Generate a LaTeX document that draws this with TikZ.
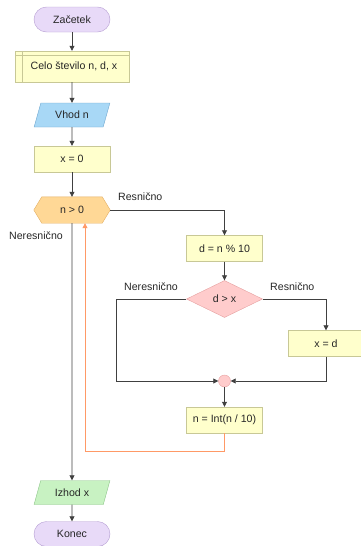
\documentclass[tikz,border=0pt]{standalone}
\usepackage{fontspec}
\setmainfont{Liberation Sans}
\usetikzlibrary{shapes.geometric,arrows.meta}

\definecolor{pillfill}{HTML}{E8DAF8}
\definecolor{pillline}{HTML}{B49CD2}
\definecolor{boxfill}{HTML}{FFFFCC}
\definecolor{boxline}{HTML}{C8C896}
\definecolor{infill}{HTML}{A8D8F6}
\definecolor{inline}{HTML}{6EA6CE}
\definecolor{outfill}{HTML}{C8F2C2}
\definecolor{outline}{HTML}{8CC488}
\definecolor{hexfill}{HTML}{FFD896}
\definecolor{hexline}{HTML}{E2AE62}
\definecolor{decfill}{HTML}{FFCCCC}
\definecolor{decline}{HTML}{E6A0A0}
\definecolor{flowline}{HTML}{404040}
\definecolor{loopline}{HTML}{FF9966}

\tikzset{
  pill/.style={draw=pillline, fill=pillfill, rounded corners=12.5pt, minimum width=76pt, minimum height=25pt, inner sep=0pt},
  box/.style={draw=boxline, fill=boxfill, minimum width=76pt, minimum height=26pt, inner sep=0pt},
  io/.style={trapezium, trapezium left angle=65, trapezium right angle=115, trapezium stretches=true, minimum width=76pt, minimum height=24pt, inner sep=0pt},
  flow/.style={draw=flowline, thick, -{Triangle[length=5pt,width=5pt]}},
  lbl/.style={text=black!85, inner sep=0pt}
}

\begin{document}
\begin{tikzpicture}[x=1pt, y=-1pt, font=\fontsize{10.6}{12}\selectfont, text=black!85]
  \useasboundingbox (0,0) rectangle (361,546);

  \node[pill] (zacetek) at (72,19.5) {Začetek};
  \node[box, minimum width=114pt, minimum height=31pt] (celo) at (72,66.5) {\hspace*{4pt}Celo število n, d, x};
  \draw[boxline] ([xshift=7pt]celo.north west) -- ([xshift=7pt]celo.south west);
  \draw[boxline] ([yshift=-4pt]celo.north west) -- ([yshift=-4pt]celo.north east);
  \node[io, draw=inline, fill=infill] (vhod) at (72,115) {Vhod n};
  \node[box] (xnic) at (72,159) {x = 0};

  % pogoj zanke: sestkotnik
  \node[minimum width=76pt, minimum height=26pt, inner sep=0pt] (pogoj) at (72,210) {};
  \draw[draw=hexline, fill=hexfill] (pogoj.west) -- ([xshift=8pt]pogoj.north west) -- ([xshift=-8pt]pogoj.north east)
    -- (pogoj.east) -- ([xshift=-8pt]pogoj.south east) -- ([xshift=8pt]pogoj.south west) -- cycle;
  \node at (pogoj) {n > 0};

  \node[box] (ostanek) at (224.5,248.5) {d = n \% 10};
  \node[diamond, draw=decline, fill=decfill, minimum width=76pt, minimum height=37pt, inner sep=0pt, aspect=2] (primerjaj) at (224.5,299) {d > x};
  \node[box] (xd) at (326,343.5) {x = d};
  \node[circle, draw=decline, fill=decfill, minimum size=12pt, inner sep=0pt] (zdruzi) at (224.5,381) {};
  \node[box] (deli) at (224.5,420) {n = Int(n / 10)};
  \node[io, draw=outline, fill=outfill] (izhod) at (72,492.5) {Izhod x};
  \node[pill] (konec) at (72,534) {Konec};

  \node[lbl, anchor=west] at (118,197) {Resnično};
  \node[lbl, anchor=west] at (9,236) {Neresnično};
  \node[lbl, anchor=west] at (124,287) {Neresnično};
  \node[lbl, anchor=west] at (270,287) {Resnično};

  \draw[flow] (zacetek) -- (celo);
  \draw[flow] (celo) -- (vhod);
  \draw[flow] (vhod) -- (xnic);
  \draw[flow] (xnic) -- (pogoj);
  \draw[flow] (pogoj.east) -| (ostanek.north);
  \draw[flow] (ostanek) -- (primerjaj);
  \draw[flow] (primerjaj.west) -- (116,299) |- (zdruzi.west);
  \draw[flow] (primerjaj.east) -| (xd.north);
  \draw[flow] (xd.south) |- (zdruzi.east);
  \draw[flow] (zdruzi) -- (deli);
  \draw[flow, draw=loopline] (deli.south) -- (224.5,451) -| ([xshift=13pt]pogoj.south);
  \draw[flow] (pogoj.south) -- (izhod.north);
  \draw[flow] (izhod) -- (konec);
\end{tikzpicture}
\end{document}
